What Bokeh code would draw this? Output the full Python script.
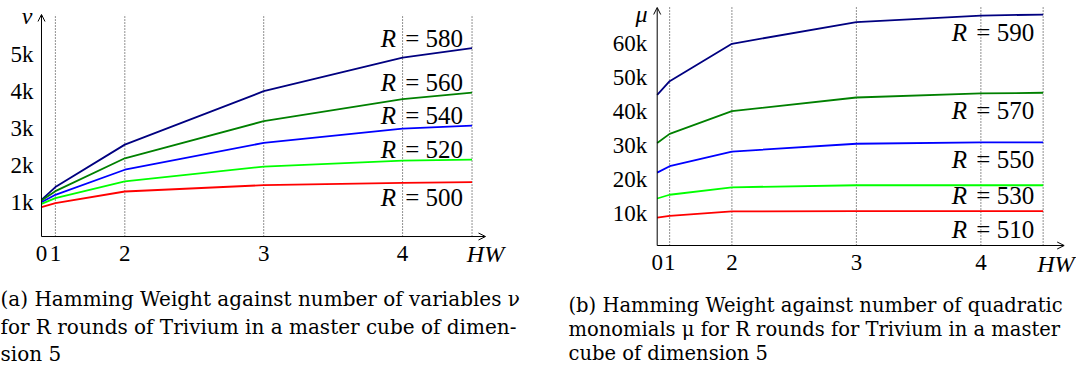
from bokeh.plotting import figure
from bokeh.models import ColumnDataSource, FixedTicker, Arrow, OpenHead, Label, Range1d
from bokeh.layouts import row
from bokeh.embed import file_html
from bokeh.resources import INLINE
from bokeh.core.properties import value

# ---------------- data ----------------
hw_pos = [0, 1, 6, 16, 26, 31]          # position of each Hamming-weight step on the axis
hw_labels = ["0", "1", "2", "3", "4"]

rounds_nu = [580, 560, 540, 520, 500]
nu_580 = [1065, 1410, 2560, 4008, 4919, 5173]
nu_560 = [1046, 1300, 2190, 3195, 3791, 3970]
nu_540 = [1000, 1200, 1880, 2607, 2995, 3076]
nu_520 = [957, 1110, 1565, 1965, 2127, 2154]
nu_500 = [865, 975, 1290, 1463, 1523, 1542]
nu_ticks = [1000, 2000, 3000, 4000, 5000]
nu_tick_labels = ["1k", "2k", "3k", "4k", "5k"]

rounds_mu = [590, 570, 550, 530, 510]
mu_590 = [45000, 49000, 60000, 66400, 68300, 68600]
mu_570 = [30800, 33500, 40200, 44200, 45400, 45600]
mu_550 = [22100, 24000, 28300, 30600, 31000, 31000]
mu_530 = [14500, 15600, 17800, 18400, 18400, 18400]
mu_510 = [8900, 9400, 10700, 10800, 10800, 10800]
mu_ticks = [10000, 20000, 30000, 40000, 50000, 60000]
mu_tick_labels = ["10k", "20k", "30k", "40k", "50k", "60k"]

colors = ["#000080", "#008000", "#0000ff", "#00ff00", "#ff0000"]

# label anchor heights (layout)
nu_label_y = [5436, 4244, 3350, 2428, 1127]
mu_label_y = [63200, 40400, 25900, 15400, 5500]

caption_a = ["(a) Hamming Weight against number of variables \u03bd",
             "for R rounds of Trivium in a master cube of dimen-",
             "sion 5"]
caption_b = ["(b) Hamming Weight against number of quadratic",
             "monomials \u03bc for R rounds for Trivium in a master",
             "cube of dimension 5"]

FONT = "Liberation Serif"
CAP_FONT = "DejaVu Serif"
H = 365


def make_fig(width, xr, yr, ax_y, top_y, x_tip, ticks, tick_labels, series, rounds, label_y,
             ylab, ylab_pos, hw_spec, caption, cap_x, cap_ys, cap_size, standoff_y):
    p = figure(width=width, height=H, x_range=Range1d(*xr), y_range=Range1d(*yr),
               output_backend="svg", toolbar_location=None,
               min_border_left=0, min_border_right=0, min_border_top=0, min_border_bottom=0)
    p.outline_line_color = None
    p.background_fill_color = "white"
    p.border_fill_color = "white"
    p.xgrid.visible = False
    p.ygrid.visible = False

    p.xaxis.ticker = FixedTicker(ticks=hw_pos[:5])
    p.xaxis.major_label_overrides = {pos: lab for pos, lab in zip(hw_pos, hw_labels)}
    p.yaxis.ticker = FixedTicker(ticks=ticks)
    p.yaxis.major_label_overrides = {t: l for t, l in zip(ticks, tick_labels)}
    p.xaxis.fixed_location = ax_y
    p.yaxis.fixed_location = 0
    for ax in (p.xaxis[0], p.yaxis[0]):
        ax.axis_line_color = None
        ax.major_tick_in = 0
        ax.major_tick_out = 0
        ax.minor_tick_line_color = None
        ax.major_label_text_font = FONT
        ax.major_label_text_font_size = "23px"
        ax.major_label_text_color = "black"
    p.xaxis.major_label_standoff = 9
    p.yaxis.major_label_standoff = standoff_y

    # dotted vertical guide lines at each Hamming weight
    n = len(hw_pos) - 1
    p.segment(x0=hw_pos[1:], y0=[ax_y] * n, x1=hw_pos[1:], y1=[top_y] * n,
              line_color="#222222", line_width=1, line_dash="1 2")

    for vals, c in zip(series, colors):
        p.line(hw_pos, vals, line_color=c, line_width=1.8)

    src = ColumnDataSource(dict(
        x=[hw_pos[-1]] * len(rounds), y=label_y,
        eq=["= %d" % r for r in rounds], r=["R"] * len(rounds)))
    p.text(x="x", y="y", text="eq", source=src, text_align="right", text_baseline="middle",
           x_offset=-9, text_font=value(FONT), text_font_size="25px", text_color="black")
    p.text(x="x", y="y", text="r", source=src, text_align="right", text_baseline="middle",
           x_offset=-76, text_font=value(FONT), text_font_size="25px", text_font_style="italic",
           text_color="black")

    # axes with arrow heads
    p.add_layout(Arrow(end=OpenHead(size=7, line_width=1), x_start=0, y_start=ax_y,
                       x_end=x_tip, y_end=ax_y, line_width=1, line_color="black"))
    p.add_layout(Arrow(end=OpenHead(size=7, line_width=1), x_start=0, y_start=ax_y,
                       x_end=0, y_end=top_y, line_width=1, line_color="black"))

    hx, hunits, halign, hy = hw_spec
    p.add_layout(Label(x=hx, y=hy, x_units=hunits, y_units="screen", text="HW",
                       text_align=halign, text_baseline="middle", text_font=FONT,
                       text_font_size="24px", text_font_style="italic", text_color="black"))
    p.add_layout(Label(x=ylab_pos[0], y=ylab_pos[1], x_units="screen", y_units="screen", text=ylab,
                       text_align="center", text_baseline="middle", text_font=FONT,
                       text_font_size="24px", text_font_style="italic", text_color="black"))
    for line, cy in zip(caption, cap_ys):
        p.add_layout(Label(x=cap_x, y=cy, x_units="screen", y_units="screen", text=line,
                           text_align="left", text_baseline="middle", text_font=CAP_FONT,
                           text_font_size=cap_size, text_color="black"))
    return p


# left: x 0 -> px 41, 13.89 px/unit ; y 0 -> px 238.6, 0.0369 px/unit
p1 = make_fig(560, (-2.952, 37.37), (-3425, 6466), 70, 6087, 31.97,
              nu_ticks, nu_tick_labels,
              [nu_580, nu_560, nu_540, nu_520, nu_500], rounds_nu, nu_label_y,
              "\u03bd", (26.5, 350), (31.97, "data", "center", 112),
              caption_a, 0, (67, 39, 12), "20px", 8)
# right: x 0 -> px 96.7 (local), 12.45 px/unit ; y 0 -> px 247.3, 0.0034 px/unit
p2 = make_fig(516, (-7.767, 33.68), (-34618, 72735), 676, 70676, 32.69,
              mu_ticks, mu_tick_labels,
              [mu_590, mu_570, mu_550, mu_530, mu_510], rounds_mu, mu_label_y,
              "\u03bc", (81, 352), (514, "screen", "right", 102),
              caption_b, 8, (60, 36, 12), "19.5px", 10)

layout = row(p1, p2)
open("out.html", "w").write(file_html(layout, INLINE))
